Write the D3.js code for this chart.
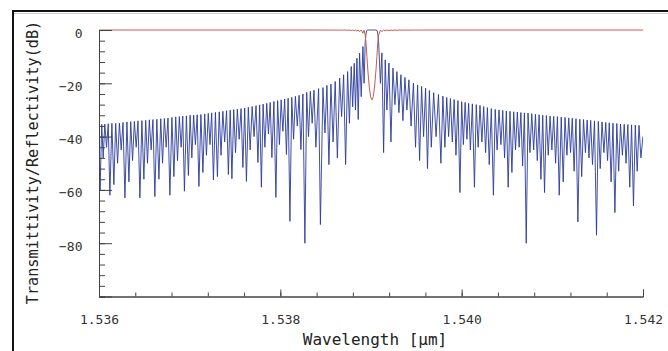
<!DOCTYPE html>
<html>
<head>
<meta charset="utf-8">
<script src="https://cdn.jsdelivr.net/npm/d3@7"></script>
<style>
  body { margin: 0; background: #fff; }
  svg { display: block; }
</style>
</head>
<body>
<svg id="chart" width="668" height="351"></svg>
<script>
// Bragg wavelength in nm, all spectrum points are [detuning in pm, dB]
const braggNm = 1539.01

// reflectivity, left sidelobes (null / peak alternating)
const blueLeft = [
  [-3011, -36.5], [-2998, -60], [-2980, -35.4], [-2964, -48], [-2946, -35.3], [-2927, -44], [-2908, -35.2],
  [-2890, -62], [-2868, -35.0], [-2846, -58], [-2826, -35.0], [-2805, -50], [-2785, -34.9], [-2765, -45],
  [-2745, -34.7], [-2724, -63], [-2702, -34.5], [-2680, -57], [-2660, -34.4], [-2640, -49], [-2620, -34.3],
  [-2600, -44], [-2580, -34.1], [-2559, -63], [-2537, -34.0], [-2515, -56], [-2495, -33.9], [-2475, -50],
  [-2455, -33.7], [-2435, -45], [-2415, -33.6], [-2394, -62.5], [-2372, -33.5], [-2349, -56], [-2329, -33.3],
  [-2309, -50], [-2289, -33.2], [-2269, -44], [-2249, -33.0], [-2228, -62], [-2206, -32.8], [-2184, -55],
  [-2164, -32.6], [-2144, -49], [-2124, -32.5], [-2104, -44], [-2086, -32.3], [-2068, -60.5], [-2046, -32.2],
  [-2024, -54.6], [-2005, -32.0], [-1986, -48], [-1966, -31.9], [-1947, -43], [-1927, -31.8], [-1908, -58.7],
  [-1886, -31.7], [-1864, -53.5], [-1844, -31.5], [-1825, -47], [-1805, -31.3], [-1786, -43], [-1767, -31.1],
  [-1748, -56.3], [-1726, -30.9], [-1704, -55], [-1684, -30.7], [-1664, -47], [-1644, -30.5], [-1624, -42],
  [-1603, -30.3], [-1583, -54.2], [-1563, -30.1], [-1544, -55.8], [-1524, -29.9], [-1504, -46], [-1484, -29.7],
  [-1464, -41], [-1443, -29.5], [-1423, -51.6], [-1403, -29.3], [-1384, -56.8], [-1363, -29.0], [-1343, -45],
  [-1321, -28.7], [-1300, -40], [-1278, -28.4], [-1257, -49.7], [-1238, -28.1], [-1219, -59], [-1200, -27.8],
  [-1180, -44], [-1160, -27.5], [-1141, -39], [-1122, -27.2], [-1103, -47.9], [-1081, -26.8], [-1059, -62.8],
  [-1040, -26.5], [-1020, -43], [-1001, -26.2], [-982, -38], [-962, -25.9], [-943, -46.7], [-924, -25.6],
  [-904, -71.8], [-884, -25.3], [-864, -41], [-844, -24.9], [-823, -36], [-803, -24.5], [-783, -44.9],
  [-761, -24.0], [-739, -80], [-719, -23.4], [-699, -40], [-679, -23.0], [-659, -35], [-639, -22.6],
  [-618, -44], [-588, -22.0], [-568, -73], [-540, -21.6], [-518, -38.6], [-496, -20.8], [-474, -50.5],
  [-452, -20.3], [-428, -42], [-405, -19.3], [-381, -48], [-356, -18.0], [-334, -32.5], [-312, -16.8],
  [-290, -50.5], [-268, -15.6], [-248, -35], [-228, -13.7], [-212, -28.8], [-195, -12.5], [-181, -30],
  [-165, -10.6], [-151, -33.6], [-136, -8.7], [-118, -25], [-99, -6.2], [-86, -20]
]

// main reflection band
const blueMain = [
  [-74, -4.4], [-64, -1.2], [-57, -0.2], [-45, 0], [0, 0], [45, 0], [57, -0.2], [64, -1.2], [74, -4.5]
]

// reflectivity, right sidelobes
const blueRight = [
  [94, -20], [110, -8.6], [129, -46], [147, -11.2], [165, -30], [188, -12.4], [210, -42], [232, -14.3],
  [254, -28], [276, -15.6], [298, -31], [320, -16.8], [342, -34], [364, -17.8], [386, -30], [408, -18.7],
  [432, -36], [458, -19.9], [481, -44], [504, -20.6], [526, -49], [548, -21.2], [570, -40], [592, -21.8],
  [613, -52], [634, -22.7], [655, -44], [681, -23.5], [708, -40], [734, -24.2], [761, -50], [783, -24.8],
  [805, -44], [825, -25.3], [846, -40], [866, -25.7], [887, -42], [907, -26.1], [927, -47], [949, -26.5],
  [971, -61], [990, -26.9], [1009, -43], [1028, -27.2], [1048, -41], [1067, -27.5], [1086, -45], [1108, -27.7],
  [1131, -59], [1151, -28.0], [1172, -44], [1192, -28.3], [1213, -42], [1233, -28.7], [1254, -46], [1274, -29.1],
  [1294, -50.5], [1317, -29.5], [1340, -62], [1360, -29.8], [1381, -45], [1402, -30.0], [1423, -43], [1443, -30.2],
  [1463, -48], [1483, -30.4], [1503, -59], [1523, -30.5], [1544, -53.5], [1564, -30.7], [1584, -45], [1604, -30.8],
  [1624, -44], [1643, -31.0], [1662, -51], [1682, -31.1], [1702, -80], [1722, -31.2], [1743, -46], [1763, -31.4],
  [1784, -45], [1804, -31.6], [1824, -49], [1844, -31.8], [1864, -56], [1884, -32.0], [1904, -61], [1924, -32.1],
  [1945, -47], [1965, -32.3], [1985, -45], [2005, -32.4], [2026, -50], [2046, -32.5], [2066, -62], [2088, -32.7],
  [2110, -57], [2130, -32.8], [2151, -47], [2171, -33.0], [2191, -46], [2210, -33.1], [2230, -53], [2251, -33.3],
  [2272, -72], [2293, -33.5], [2314, -55], [2334, -33.6], [2355, -46], [2374, -33.8], [2394, -48], [2413, -33.9],
  [2433, -50.5], [2455, -34.1], [2477, -77], [2497, -34.3], [2518, -52], [2538, -34.5], [2559, -46], [2579, -34.7],
  [2599, -49], [2618, -34.8], [2638, -57], [2659, -35.0], [2680, -68.5], [2701, -35.1], [2722, -53], [2742, -35.3],
  [2763, -47], [2783, -35.4], [2803, -50], [2823, -35.5], [2844, -59], [2864, -35.6], [2885, -66], [2905, -35.7],
  [2926, -53], [2946, -35.8], [2967, -48], [2989, -40]
]

// transmissivity
const redT = [
  [-3011, 0], [-620, 0], [-588, -0.02], [-568, 0], [-540, -0.03], [-518, 0], [-496, -0.035], [-474, 0],
  [-452, -0.04], [-428, 0], [-405, -0.05], [-381, 0], [-356, -0.07], [-334, -0.01], [-312, -0.09], [-290, 0],
  [-268, -0.12], [-248, -0.01], [-228, -0.19], [-212, -0.01], [-195, -0.25], [-181, -0.01], [-165, -0.4],
  [-151, -0.01], [-136, -0.63], [-118, -0.01], [-99, -1.2], [-86, -0.04], [-74, -1.9], [-64, -5], [-55, -10],
  [-45, -15], [-30, -21], [-15, -25], [0, -26.2], [15, -25], [30, -21], [45, -15], [55, -10], [64, -5],
  [74, -1.9], [94, -0.04], [110, -0.64], [129, 0], [147, -0.34], [165, 0], [188, -0.26], [210, 0],
  [232, -0.16], [254, 0], [276, -0.12], [298, 0], [320, -0.09], [342, 0], [364, -0.07], [386, 0],
  [408, -0.06], [432, 0], [458, -0.045], [481, 0], [504, -0.04], [526, 0], [548, -0.033], [570, 0], [2989, 0]
]

const xTicks = [1.536, 1.538, 1.540, 1.542]
const yTicks = [0, -20, -40, -60, -80]
const xMinorStep = 0.0004
const yMinorStep = 4

const monoFont = '"DejaVu Sans Mono", "Liberation Mono", monospace'

const svg = d3.select('#chart')
const plotL = 99, plotR = 643, plotT = 30, plotB = 296.5

const x = d3.scaleLinear().domain([1.536, 1.542]).range([plotL, plotR])
const y = d3.scaleLinear().domain([-100, 0]).range([plotB, plotT])
const wl = (pm) => (braggNm + pm / 1000) / 1000

// outer frame
svg.append('line').attr('x1', 12).attr('x2', 668).attr('y1', 11).attr('y2', 11)
  .attr('stroke', '#111').attr('stroke-width', 2)
svg.append('line').attr('x1', 12).attr('x2', 668).attr('y1', 13.5).attr('y2', 13.5)
  .attr('stroke', '#ccc').attr('stroke-width', 1)
svg.append('line').attr('x1', 13).attr('x2', 13).attr('y1', 10).attr('y2', 351)
  .attr('stroke', '#111').attr('stroke-width', 2)

svg.append('defs').append('clipPath').attr('id', 'plot')
  .append('rect').attr('x', plotL).attr('y', plotT - 3).attr('width', plotR - plotL).attr('height', plotB - plotT + 3)

const line = d3.line()
  .x((d) => x(wl(d[0])))
  .y((d) => y(d[1]))

const blue = [...blueLeft, ...blueMain, ...blueRight]

const plot = svg.append('g').attr('clip-path', 'url(#plot)')
plot.append('path').datum(blue)
  .attr('d', line).attr('fill', 'none')
  .attr('stroke', '#2a3b9c').attr('stroke-width', 0.9).attr('stroke-linejoin', 'round')
plot.append('path').datum(redT)
  .attr('d', line).attr('fill', 'none')
  .attr('stroke', '#c85a4c').attr('stroke-width', 1)

// axes
const axisColor = '#444'
const xMinor = d3.range(1.536, 1.5421, xMinorStep)
const yMinor = d3.range(-100, 0.1, yMinorStep)

const gx = svg.append('g').attr('transform', `translate(0,${plotB})`)
gx.call(d3.axisBottom(x).tickValues(xMinor).tickSize(-4).tickFormat(''))
gx.append('g').call(d3.axisBottom(x).tickValues(xTicks).tickSize(-7).tickFormat(d3.format('.3f')))
gx.selectAll('text').attr('dy', null).attr('y', 27)
  .attr('font-family', monoFont).attr('font-size', 13).attr('fill', '#333')

const gy = svg.append('g').attr('transform', `translate(${plotL},0)`)
gy.call(d3.axisLeft(y).tickValues(yMinor).tickSize(-6).tickFormat(''))
gy.append('g').call(d3.axisLeft(y).tickValues(yTicks).tickSize(-13).tickFormat(d3.format('d')))
gy.selectAll('text').attr('dy', null).attr('x', -16.5).attr('y', 7)
  .attr('font-family', monoFont).attr('font-size', 13).attr('fill', '#333')

svg.selectAll('.domain, .tick line').attr('stroke', axisColor)

// titles
svg.append('text')
  .attr('x', 375).attr('y', 345)
  .attr('text-anchor', 'middle')
  .attr('font-family', monoFont).attr('font-size', 16).attr('fill', '#222')
  .text('Wavelength [µm]')

svg.append('text')
  .attr('transform', 'translate(38,162.5) rotate(-90)')
  .attr('text-anchor', 'middle')
  .attr('font-family', monoFont).attr('font-size', 15.2).attr('fill', '#222')
  .text('Transmittivity/Reflectivity(dB)')
</script>
</body>
</html>
